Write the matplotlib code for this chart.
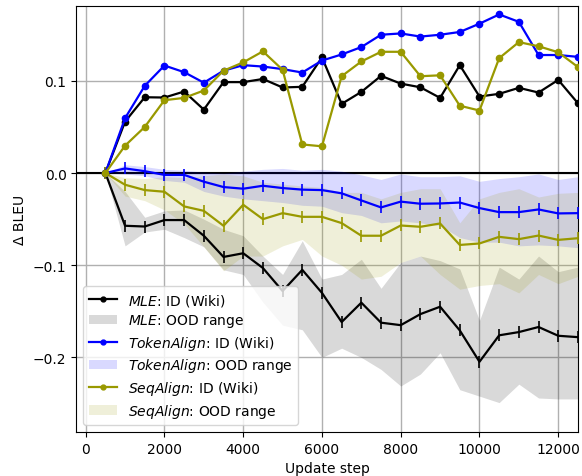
import matplotlib
matplotlib.use('Agg')
import matplotlib.pyplot as plt
from matplotlib.patches import Patch
from matplotlib.lines import Line2D

steps = list(range(500, 12501, 500))

# in-domain (Wiki) delta BLEU
mle_id = [0, 0.0558, 0.0822, 0.0819, 0.0884, 0.0688, 0.0986, 0.0986, 0.102, 0.0928, 0.0935, 0.1254,
          0.075, 0.088, 0.1054, 0.097, 0.093, 0.0815, 0.117, 0.083, 0.0859, 0.0924, 0.0873, 0.101, 0.0757]
tok_id = [0, 0.0595, 0.0946, 0.1166, 0.1094, 0.098, 0.111, 0.117, 0.1155, 0.1127, 0.109, 0.122,
          0.1286, 0.1366, 0.150, 0.1514, 0.148, 0.150, 0.153, 0.162, 0.172, 0.164, 0.128, 0.128, 0.126]
seq_id = [0, 0.0297, 0.050, 0.079, 0.0815, 0.0895, 0.111, 0.120, 0.132, 0.112, 0.031, 0.029,
          0.105, 0.121, 0.1315, 0.1315, 0.105, 0.106, 0.073, 0.0678, 0.1246, 0.142, 0.1375, 0.131, 0.115]

# out-of-domain mean
mle_ood = [0, -0.0572, -0.058, -0.051, -0.051, -0.068, -0.091, -0.087, -0.103, -0.128, -0.105, -0.13,
           -0.1616, -0.1406, -0.1623, -0.165, -0.153, -0.145, -0.1707, -0.2047, -0.176, -0.1725, -0.167, -0.1765, -0.178]
tok_ood = [0, 0.005, 0.002, -0.002, -0.002, -0.0094, -0.0152, -0.017, -0.0138, -0.0163, -0.018, -0.0185,
           -0.022, -0.0297, -0.0373, -0.031, -0.0333, -0.033, -0.032, -0.038, -0.0424, -0.0424, -0.0395, -0.0438, -0.0435]
seq_ood = [0, -0.0127, -0.0185, -0.0203, -0.0362, -0.041, -0.0572, -0.0344, -0.050, -0.0435, -0.0475, -0.0475,
           -0.0543, -0.068, -0.068, -0.0569, -0.0583, -0.0547, -0.078, -0.0764, -0.0692, -0.0717, -0.0678, -0.0725, -0.0707]

# out-of-domain range (min / max)
mle_lo = [0, -0.079, -0.064, -0.061, -0.07, -0.08, -0.105, -0.11, -0.14, -0.165, -0.17, -0.2,
          -0.19, -0.2, -0.213, -0.231, -0.218, -0.195, -0.235, -0.242, -0.249, -0.229, -0.244, -0.245, -0.245]
mle_hi = [0, -0.02, -0.048, -0.041, -0.04, -0.05, -0.061, -0.068, -0.09, -0.11, -0.0735, -0.115,
          -0.11, -0.0935, -0.125, -0.097, -0.09, -0.095, -0.104, -0.16, -0.102, -0.115, -0.09, -0.107, -0.102]
tok_lo = [0, -0.001, -0.003, -0.008, -0.010, -0.02, -0.025, -0.028, -0.03, -0.032, -0.035, -0.036,
          -0.043, -0.046, -0.054, -0.052, -0.054, -0.057, -0.070, -0.075, -0.075, -0.079, -0.078, -0.079, -0.081]
tok_hi = [0, 0.009, 0.007, 0.004, 0.003, 0.001, 0.0, 0.002, 0.004, 0.005, 0.003, 0.004,
          0.002, -0.002, -0.007, -0.001, -0.004, -0.004, -0.003, -0.009, -0.006, -0.004, -0.001, -0.007, -0.004]
seq_lo = [0, -0.025, -0.03, -0.04, -0.055, -0.08, -0.106, -0.09, -0.09, -0.079, -0.072, -0.09,
          -0.1, -0.115, -0.112, -0.097, -0.09, -0.11, -0.126, -0.122, -0.12, -0.13, -0.11, -0.12, -0.112]
seq_hi = [0, -0.005, -0.006, -0.004, -0.005, -0.003, -0.001, -0.003, -0.010, -0.012, -0.014, -0.0156,
          -0.021, -0.021, -0.028, -0.021, -0.017, -0.017, -0.054, -0.028, -0.021, -0.017, -0.026, -0.022, -0.021]

OLIVE = (0.6, 0.6, 0.0)
series = [
    ('MLE', 'k', mle_id, mle_ood, mle_lo, mle_hi),
    ('TokenAlign', 'b', tok_id, tok_ood, tok_lo, tok_hi),
    ('SeqAlign', OLIVE, seq_id, seq_ood, seq_lo, seq_hi),
]

fig = plt.figure(figsize=(5.82, 4.77), dpi=100)
ax = fig.add_axes([0.131, 0.092, 0.862, 0.893])

ax.grid(True, color='#b0b0b0', linewidth=1.0, zorder=0)
ax.set_axisbelow(True)
ax.axhline(0, color='k', linewidth=1.5, zorder=1)

handles = []
for name, col, y_id, y_ood, lo, hi in series:
    ax.fill_between(steps, lo, hi, color=col, alpha=0.15, linewidth=0, zorder=2)
    ax.plot(steps, y_ood, color=col, marker='|', markersize=8, markeredgewidth=1.2, linewidth=1.6, zorder=3)
    ax.plot(steps, y_id, color=col, marker='o', markersize=4.5, linewidth=1.6, zorder=4)
    handles.append(Line2D([], [], color=col, marker='o', markersize=3.5, linewidth=1.6,
                          label=r'$\it{' + name + '}$: ID (Wiki)'))
    handles.append(Patch(facecolor=col, alpha=0.15, edgecolor='none',
                         label=r'$\it{' + name + '}$: OOD range'))

ax.set_xlim(-240, 12500)
ax.set_ylim(-0.281, 0.181)
ax.set_yticks([-0.2, -0.1, 0.0, 0.1])
ax.set_xticks([0, 2000, 4000, 6000, 8000, 10000, 12000])
ax.set_xlabel('Update step')
ax.set_ylabel('Δ BLEU')
ax.legend(handles=handles, loc='lower left', framealpha=0.8, fontsize=10, labelspacing=0.33)

fig.savefig('out.png', dpi=100)
